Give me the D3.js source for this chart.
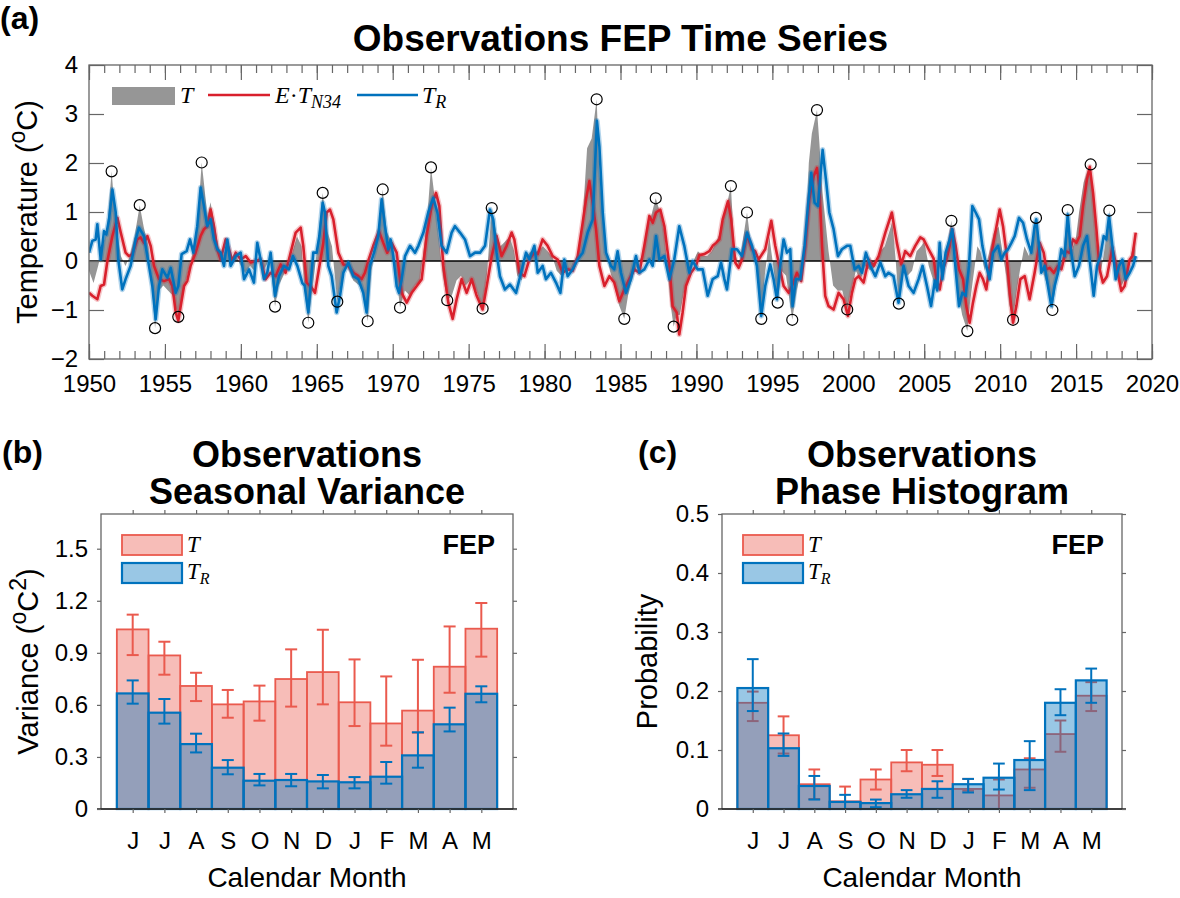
<!DOCTYPE html>
<html>
<head>
<meta charset="utf-8">
<script src="https://cdn.jsdelivr.net/npm/d3@7"></script>
<style>
  body { margin: 0; background: #fff; }
  svg { display: block; }
  text { font-family: Arial, "Liberation Sans", Helvetica, sans-serif; fill: #000; }
</style>
</head>
<body>
<div id="chart"></div>
<script>
// ---- panel (a) data: [year, value] ----
const seriesT = [
  [1950.0,-0.2],[1950.3,-0.45],[1950.6,-0.1],[1950.9,0.3],[1951.2,0.7],[1951.49,1.83],[1951.7,1.0],[1951.9,0.5],
  [1952.1,0.1],[1952.4,-0.1],[1952.7,0.1],[1953.0,0.5],[1953.34,1.14],[1953.6,0.7],[1953.9,0.3],[1954.1,-0.3],
  [1954.35,-1.37],[1954.6,-0.6],[1954.9,-0.5],[1955.2,-0.6],[1955.5,-0.7],[1955.88,-1.14],[1956.1,-0.8],[1956.4,-0.4],
  [1956.7,0.0],[1957.0,0.4],[1957.2,1.0],[1957.42,2.01],[1957.6,1.5],[1957.8,0.9],[1958.0,1.2],[1958.3,0.7],
  [1958.5,0.3],[1958.8,0.1],[1959.1,0.3],[1959.4,-0.1],[1959.7,0.1],[1960.0,-0.1],[1960.3,-0.25],[1960.6,-0.1],
  [1960.9,-0.2],[1961.2,0.1],[1961.5,-0.2],[1961.9,0.05],[1962.25,-0.93],[1962.5,-0.5],[1962.8,-0.3],[1963.1,-0.1],
  [1963.4,0.2],[1963.7,0.5],[1964.0,0.3],[1964.2,-0.6],[1964.44,-1.26],[1964.7,-0.6],[1965.0,0.2],[1965.39,1.39],
  [1965.7,0.6],[1966.0,0.3],[1966.35,-0.83],[1966.7,-0.3],[1967.0,-0.1],[1967.4,-0.4],[1967.8,-0.5],[1968.1,-0.7],
  [1968.35,-1.23],[1968.6,-0.2],[1968.9,0.3],[1969.1,0.7],[1969.34,1.46],[1969.6,0.6],[1969.9,0.4],[1970.2,-0.2],
  [1970.48,-0.95],[1970.8,-0.6],[1971.1,-0.7],[1971.5,-0.5],[1971.8,-0.4],[1972.1,0.4],[1972.3,1.0],[1972.52,1.91],
  [1972.8,1.2],[1973.0,0.6],[1973.3,-0.3],[1973.59,-0.8],[1973.9,-0.7],[1974.2,-0.4],[1974.5,-0.3],[1974.8,-0.5],
  [1975.1,-0.4],[1975.5,-0.6],[1975.92,-0.97],[1976.2,-0.3],[1976.52,1.08],[1976.8,0.6],[1977.1,0.3],[1977.4,0.4],
  [1977.7,0.5],[1978.0,0.2],[1978.2,-0.3],[1978.5,-0.4],[1978.8,0.1],[1979.1,0.2],[1979.5,0.2],[1979.9,0.3],
  [1980.2,0.2],[1980.5,0.1],[1980.8,-0.2],[1981.1,-0.3],[1981.4,-0.2],[1981.8,-0.2],[1982.1,0.0],[1982.5,0.8],
  [1982.8,2.3],[1983.1,2.5],[1983.43,3.3],[1983.6,1.9],[1983.8,1.0],[1984.0,0.3],[1984.3,-0.2],[1984.6,-0.5],
  [1984.9,-0.9],[1985.25,-1.18],[1985.5,-0.7],[1985.8,-0.3],[1986.1,-0.1],[1986.4,0.1],[1986.7,0.6],[1987.0,0.9],
  [1987.32,1.28],[1987.6,1.0],[1987.9,0.6],[1988.1,-0.2],[1988.3,-0.9],[1988.5,-1.34],[1988.7,-1.1],[1988.9,-1.1],
  [1989.2,-0.6],[1989.5,-0.3],[1989.8,0.0],[1990.1,0.2],[1990.4,0.1],[1990.7,0.1],[1991.0,0.2],[1991.3,0.4],
  [1991.6,0.6],[1991.9,1.0],[1992.27,1.53],[1992.5,0.2],[1992.8,-0.1],[1993.0,0.3],[1993.33,0.99],[1993.6,0.3],
  [1993.9,0.0],[1994.1,-0.5],[1994.27,-1.18],[1994.5,-0.3],[1994.8,0.5],[1995.1,-0.2],[1995.35,-0.85],[1995.6,-0.2],
  [1995.9,-0.3],[1996.31,-1.2],[1996.6,-0.6],[1996.9,-0.2],[1997.2,0.5],[1997.4,2.0],[1997.6,2.6],[1997.94,3.08],
  [1998.1,2.4],[1998.3,1.4],[1998.5,0.8],[1998.7,0.2],[1999.0,-0.5],[1999.3,-0.6],[1999.6,-0.6],[1999.93,-0.99],
  [2000.2,-0.6],[2000.5,-0.2],[2000.8,-0.4],[2001.1,-0.1],[2001.5,-0.2],[2001.8,-0.1],[2002.1,0.2],[2002.4,0.3],
  [2002.7,0.6],[2002.9,0.8],[2003.1,0.1],[2003.33,-0.87],[2003.6,-0.2],[2003.9,-0.3],[2004.2,-0.2],[2004.5,0.2],
  [2004.8,0.3],[2005.0,0.4],[2005.3,-0.1],[2005.6,-0.4],[2005.8,-0.6],[2006.0,-0.1],[2006.3,-0.3],[2006.5,0.3],
  [2006.79,0.82],[2007.0,0.0],[2007.2,-0.6],[2007.5,-1.1],[2007.84,-1.43],[2008.0,-0.9],[2008.2,-0.4],[2008.5,0.3],
  [2008.7,0.2],[2009.0,-0.2],[2009.3,0.2],[2009.6,0.6],[2009.9,0.7],[2010.1,0.3],[2010.4,-0.3],[2010.6,-0.9],
  [2010.85,-1.2],[2011.1,-0.6],[2011.3,-0.2],[2011.6,0.3],[2011.9,0.1],[2012.1,0.4],[2012.36,0.88],[2012.6,0.0],
  [2012.9,-0.3],[2013.2,-0.6],[2013.44,-1.0],[2013.7,-0.4],[2014.0,-0.1],[2014.2,0.3],[2014.45,1.04],[2014.7,0.2],
  [2015.0,0.5],[2015.2,1.0],[2015.5,1.6],[2015.7,1.8],[2015.96,1.97],[2016.2,1.0],[2016.4,0.2],[2016.6,-0.3],
  [2016.9,0.3],[2017.19,1.03],[2017.4,0.2],[2017.7,-0.3],[2018.0,-0.5],[2018.3,-0.3],[2018.6,0.1],[2018.9,0.5]
];

const seriesN34 = [
  [1950.0,-0.65],[1950.22,-0.71],[1950.55,-0.78],[1950.77,-0.51],[1950.99,-0.48],[1951.21,0.0],[1951.54,0.51],[1951.87,0.88],
  [1952.09,0.58],[1952.41,0.17],[1952.63,0.10],[1952.85,0.14],[1953.18,0.44],[1953.40,0.48],[1953.62,0.37],[1953.84,0.51],
  [1954.06,0.31],[1954.28,-0.10],[1954.61,-0.37],[1954.94,-0.41],[1955.27,-0.37],[1955.49,-0.51],[1955.71,-1.05],[1955.88,-1.22],
  [1956.04,-0.92],[1956.26,-0.51],[1956.47,-0.41],[1956.69,-0.10],[1957.02,0.17],[1957.35,0.51],[1957.57,0.65],[1957.79,0.71],
  [1958.01,1.05],[1958.23,0.71],[1958.45,0.24],[1958.67,0.03],[1959.00,0.44],[1959.22,0.24],[1959.44,0.0],[1959.66,0.17],
  [1959.99,0.03],[1960.32,0.10],[1960.65,-0.03],[1960.97,0.0],[1961.30,0.03],[1961.63,-0.37],[1961.96,-0.24],[1962.29,-0.31],
  [1962.62,-0.07],[1962.95,-0.24],[1963.28,0.17],[1963.61,0.58],[1963.94,0.68],[1964.11,0.31],[1964.33,-0.44],[1964.66,-0.54],
  [1964.88,-0.65],[1965.10,-0.24],[1965.43,0.37],[1965.65,0.99],[1965.87,1.05],[1966.09,0.85],[1966.42,0.17],[1966.75,-0.07],
  [1967.08,-0.10],[1967.41,-0.24],[1967.74,-0.31],[1967.95,-0.37],[1968.17,-0.24],[1968.39,0.0],[1968.72,0.31],[1969.09,0.61],
  [1969.38,0.37],[1969.64,0.17],[1969.93,0.37],[1970.26,0.17],[1970.59,-0.65],[1970.92,-0.85],[1971.25,-0.65],[1971.58,-0.51],
  [1971.91,-0.37],[1972.23,0.51],[1972.56,1.12],[1972.85,1.39],[1973.07,1.12],[1973.33,-0.10],[1973.66,-0.85],[1973.95,-1.18],
  [1974.21,-0.78],[1974.54,-0.37],[1974.87,-0.65],[1975.20,-0.37],[1975.53,-0.71],[1975.92,-0.99],[1976.19,-0.51],[1976.52,0.10],
  [1976.84,0.51],[1977.17,0.10],[1977.50,0.31],[1977.83,0.58],[1978.01,0.44],[1978.34,-0.24],[1978.67,-0.31],[1978.99,0.03],
  [1979.33,0.17],[1979.55,0.14],[1979.87,0.44],[1980.20,0.31],[1980.53,0.10],[1980.86,0.03],[1981.19,-0.24],[1981.52,-0.17],
  [1981.85,-0.20],[1982.18,0.10],[1982.51,0.78],[1982.73,1.26],[1982.95,1.63],[1983.17,1.18],[1983.39,0.65],[1983.61,-0.10],
  [1983.94,-0.51],[1984.27,-0.31],[1984.59,-0.44],[1984.92,-0.82],[1985.25,-0.58],[1985.58,-0.37],[1985.91,-0.17],[1986.24,-0.24],
  [1986.57,0.31],[1986.90,0.92],[1987.12,0.78],[1987.34,0.99],[1987.62,1.05],[1987.89,0.71],[1988.22,-0.10],[1988.43,-0.92],
  [1988.70,-1.05],[1988.87,-1.50],[1989.09,-1.05],[1989.31,-0.51],[1989.64,-0.24],[1989.97,-0.10],[1990.19,0.12],[1990.52,0.14],
  [1990.85,0.20],[1991.07,0.31],[1991.29,0.37],[1991.51,0.44],[1991.73,0.85],[1992.08,1.22],[1992.29,0.85],[1992.56,-0.03],
  [1992.78,-0.14],[1993.0,0.03],[1993.33,0.54],[1993.66,0.24],[1993.87,0.20],[1994.09,0.03],[1994.53,0.24],[1994.93,0.82],
  [1995.19,0.31],[1995.46,-0.10],[1995.74,-0.51],[1996.07,-0.65],[1996.29,-0.51],[1996.62,-0.24],[1996.90,-0.41],[1997.17,0.31],
  [1997.43,1.26],[1997.72,1.73],[1997.94,1.90],[1998.09,1.53],[1998.27,0.31],[1998.48,-0.71],[1998.70,-0.92],[1999.03,-0.99],
  [1999.36,-0.65],[1999.69,-0.78],[1999.98,-1.12],[2000.24,-0.65],[2000.46,-0.37],[2000.68,-0.31],[2001.01,-0.44],[2001.34,0.03],
  [2001.67,-0.10],[2002.0,0.10],[2002.44,0.58],[2002.87,0.99],[2003.20,0.37],[2003.49,-0.07],[2003.75,0.20],[2004.08,0.10],
  [2004.41,0.31],[2004.74,0.48],[2004.96,0.44],[2005.29,0.24],[2005.62,0.05],[2005.80,-0.37],[2006.02,-0.58],[2006.24,-0.17],
  [2006.46,0.03],[2006.68,0.31],[2006.85,0.65],[2007.07,0.31],[2007.29,-0.17],[2007.56,-0.37],[2007.77,-0.92],[2007.99,-1.26],
  [2008.21,-0.85],[2008.43,-0.51],[2008.65,-0.24],[2008.87,-0.37],[2009.09,-0.58],[2009.36,0.03],[2009.64,0.51],[2009.97,1.05],
  [2010.19,0.71],[2010.41,0.17],[2010.63,-0.65],[2010.85,-1.26],[2011.07,-0.92],[2011.33,-0.37],[2011.62,-0.31],[2011.94,-0.78],
  [2012.27,-0.24],[2012.60,0.37],[2012.87,0.17],[2013.04,-0.17],[2013.26,-0.14],[2013.53,-0.24],[2013.81,-0.10],[2014.03,-0.17],
  [2014.32,0.20],[2014.58,0.17],[2014.80,0.44],[2015.02,0.37],[2015.24,0.51],[2015.46,1.12],[2015.72,1.67],[2015.90,1.92],
  [2016.12,1.39],[2016.34,0.65],[2016.55,-0.17],[2016.77,-0.44],[2017.04,-0.31],[2017.39,0.27],[2017.65,-0.10],[2017.98,-0.61],
  [2018.20,-0.51],[2018.53,0.03],[2018.71,0.10],[2018.93,0.58]
];

const seriesTR = [
  [1950.0,0.17],[1950.22,0.41],[1950.44,0.44],[1950.55,0.75],[1950.77,0.03],[1950.99,0.61],[1951.14,0.54],[1951.32,0.85],
  [1951.54,1.46],[1951.76,0.99],[1951.93,0.03],[1952.19,-0.58],[1952.41,-0.37],[1952.74,-0.10],[1953.07,0.44],[1953.29,0.68],
  [1953.62,0.51],[1953.95,-0.10],[1954.17,-0.51],[1954.39,-1.19],[1954.61,-0.51],[1954.83,-0.17],[1955.16,-0.34],[1955.38,-0.14],
  [1955.71,-0.65],[1955.88,-0.51],[1956.1,0.14],[1956.43,0.2],[1956.65,0.44],[1956.87,0.17],[1957.13,0.71],[1957.35,1.50],
  [1957.57,1.12],[1957.79,0.71],[1958.01,0.85],[1958.23,0.44],[1958.45,0.24],[1958.67,0.17],[1958.89,-0.10],[1959.11,0.44],
  [1959.33,-0.10],[1959.66,0.10],[1959.99,0.17],[1960.21,-0.37],[1960.54,-0.17],[1960.86,-0.44],[1961.08,0.37],[1961.30,0.03],
  [1961.52,-0.37],[1961.74,-0.24],[1961.96,0.17],[1962.25,-0.71],[1962.51,-0.31],[1962.84,-0.10],[1963.17,-0.17],[1963.43,0.10],
  [1963.72,-0.10],[1964.05,-0.45],[1964.20,-0.50],[1964.44,-1.05],[1964.66,-0.24],[1964.77,0.17],[1964.99,0.17],[1965.17,0.51],
  [1965.39,1.19],[1965.54,0.99],[1965.76,-0.10],[1965.98,-0.31],[1966.31,-1.05],[1966.53,-0.71],[1966.75,-0.24],[1967.08,-0.03],
  [1967.41,-0.31],[1967.74,-0.37],[1968.06,-0.65],[1968.28,-1.05],[1968.50,-0.10],[1968.77,0.17],[1969.05,0.51],[1969.27,1.26],
  [1969.49,0.71],[1969.71,0.24],[1969.86,0.44],[1970.04,0.10],[1970.26,-0.51],[1970.41,-0.65],[1970.59,-0.37],[1970.81,0.10],
  [1971.14,0.31],[1971.47,0.17],[1971.69,0.31],[1972.02,0.58],[1972.34,0.99],[1972.67,1.29],[1972.94,0.99],[1973.22,0.31],
  [1973.55,0.17],[1973.88,0.58],[1974.10,0.71],[1974.43,0.58],[1974.76,0.44],[1975.09,0.10],[1975.42,0.17],[1975.75,0.17],
  [1976.08,0.31],[1976.40,1.05],[1976.62,0.85],[1976.84,0.17],[1977.06,-0.31],[1977.39,-0.58],[1977.72,-0.48],[1978.12,-0.65],
  [1978.45,-0.24],[1978.78,0.17],[1979.0,0.03],[1979.33,0.31],[1979.55,-0.24],[1979.87,-0.10],[1980.09,-0.37],[1980.42,-0.24],
  [1980.75,-0.44],[1981.04,-0.65],[1981.30,0.03],[1981.52,-0.31],[1981.85,-0.17],[1982.18,0.03],[1982.51,0.17],[1982.84,0.58],
  [1983.17,0.85],[1983.45,2.86],[1983.61,2.34],[1983.83,0.99],[1984.05,0.17],[1984.37,-0.10],[1984.59,-0.17],[1984.81,0.20],
  [1985.03,-0.24],[1985.36,-0.65],[1985.69,-0.37],[1986.02,0.10],[1986.24,-0.24],[1986.57,-0.17],[1986.90,0.03],[1987.12,-0.10],
  [1987.34,0.51],[1987.56,0.03],[1987.89,0.10],[1988.22,-0.37],[1988.54,0.03],[1988.87,0.71],[1989.20,0.31],[1989.53,-0.24],
  [1989.75,0.0],[1990.08,-0.17],[1990.41,-0.17],[1990.74,-0.71],[1991.07,-0.37],[1991.40,-0.31],[1991.62,-0.03],[1991.84,-0.37],
  [1992.01,-0.58],[1992.34,0.24],[1992.67,0.24],[1993.0,0.10],[1993.33,0.58],[1993.66,0.31],[1993.98,-0.10],[1994.27,-1.12],
  [1994.53,-0.51],[1994.86,-0.07],[1995.08,-0.37],[1995.30,-0.78],[1995.52,-0.10],[1995.74,0.44],[1995.96,0.17],[1996.18,0.24],
  [1996.33,-0.92],[1996.55,-0.37],[1996.84,-0.37],[1997.12,0.31],[1997.34,1.12],[1997.56,1.80],[1997.78,1.19],[1998.0,1.12],
  [1998.31,2.27],[1998.53,1.66],[1998.75,0.99],[1999.03,0.65],[1999.32,0.10],[1999.58,0.24],[1999.91,0.31],[2000.13,0.31],
  [2000.42,-0.17],[2000.68,-0.10],[2000.90,-0.24],[2001.16,0.17],[2001.45,-0.10],[2001.78,-0.31],[2002.11,-0.03],[2002.44,-0.31],
  [2002.65,-0.24],[2002.98,-0.31],[2003.31,-0.85],[2003.64,-0.10],[2003.97,-0.51],[2004.30,-0.65],[2004.63,-0.37],[2004.89,-0.10],
  [2005.18,-0.51],[2005.45,-0.92],[2005.70,-0.40],[2005.85,-0.60],[2006.02,0.37],[2006.19,-0.37],[2006.41,0.17],[2006.68,0.44],
  [2006.85,0.65],[2007.07,-0.17],[2007.29,-0.92],[2007.51,-0.65],[2007.73,-0.71],[2007.95,-0.10],[2008.17,1.12],[2008.39,0.99],
  [2008.61,0.85],[2008.83,0.31],[2009.09,-0.10],[2009.31,-0.37],[2009.53,0.17],[2009.86,0.31],[2010.08,0.03],[2010.30,0.17],
  [2010.52,0.24],[2010.74,0.37],[2010.96,0.51],[2011.24,0.88],[2011.51,0.78],[2011.77,0.44],[2012.05,0.17],[2012.27,0.71],
  [2012.38,0.85],[2012.56,0.31],[2012.71,-0.24],[2012.93,-0.10],[2013.15,-0.51],[2013.37,-0.92],[2013.59,-0.51],[2013.81,-0.24],
  [2014.03,0.24],[2014.25,0.10],[2014.45,0.95],[2014.62,0.31],[2014.91,-0.31],[2015.19,-0.10],[2015.46,0.31],[2015.72,0.51],
  [2015.94,-0.10],[2016.16,-0.71],[2016.38,-0.10],[2016.60,0.10],[2016.82,0.51],[2016.99,0.44],[2017.17,0.92],[2017.39,0.31],
  [2017.61,-0.37],[2017.83,-0.10],[2018.05,0.03],[2018.27,-0.37],[2018.53,-0.24],[2018.75,-0.10],[2018.93,0.10]
];

// circled extreme events of T
const extremes = [
  [1951.49,1.83],[1953.34,1.14],[1954.35,-1.37],[1955.88,-1.14],[1957.42,2.01],[1962.25,-0.93],[1964.44,-1.26],
  [1965.39,1.39],[1966.35,-0.83],[1968.35,-1.23],[1969.34,1.46],[1970.48,-0.95],[1972.52,1.91],[1973.59,-0.80],
  [1975.92,-0.97],[1976.52,1.08],[1983.43,3.30],[1985.25,-1.18],[1987.32,1.28],[1988.50,-1.34],[1992.27,1.53],
  [1993.33,0.99],[1994.27,-1.18],[1995.35,-0.85],[1996.31,-1.20],[1997.94,3.08],[1999.93,-0.99],[2003.33,-0.87],
  [2006.79,0.82],[2007.84,-1.43],[2010.85,-1.20],[2012.36,0.88],[2013.44,-1.00],[2014.45,1.04],[2015.96,1.97],
  [2017.19,1.03]
];

const yearTicks = [1950,1955,1960,1965,1970,1975,1980,1985,1990,1995,2000,2005,2010,2015,2020];
const tempTicks = [-2,-1,0,1,2,3,4];

// ---- panels (b) and (c) data ----
const months = ["J","J","A","S","O","N","D","J","F","M","A","M"];

const varT    = [1.035,0.885,0.709,0.603,0.620,0.749,0.789,0.615,0.493,0.567,0.820,1.039];
const varTlo  = [0.887,0.774,0.622,0.526,0.509,0.590,0.603,0.478,0.365,0.440,0.670,0.878];
const varThi  = [1.120,0.964,0.785,0.686,0.711,0.920,1.033,0.862,0.764,0.860,1.052,1.187];
const varTR   = [0.666,0.555,0.374,0.238,0.163,0.167,0.159,0.154,0.186,0.309,0.488,0.664];
const varTRlo = [0.607,0.492,0.326,0.200,0.136,0.131,0.119,0.119,0.146,0.238,0.447,0.615];
const varTRhi = [0.741,0.634,0.434,0.282,0.202,0.202,0.196,0.184,0.271,0.442,0.584,0.707];
const varTicks = [0,0.3,0.6,0.9,1.2,1.5];

const probT    = [0.180,0.125,0.042,0.013,0.050,0.079,0.075,0.034,0.023,0.067,0.127,0.192];
const probTlo  = [0.149,0.094,0.017,0.000,0.033,0.064,0.056,0.031,0.000,0.036,0.097,0.166];
const probThi  = [0.199,0.157,0.067,0.038,0.067,0.100,0.100,0.051,0.050,0.086,0.150,0.215];
const probTR   = [0.205,0.103,0.039,0.012,0.010,0.025,0.034,0.042,0.053,0.083,0.180,0.218];
const probTRlo = [0.166,0.090,0.016,0.000,0.003,0.019,0.019,0.028,0.033,0.032,0.159,0.180];
const probTRhi = [0.254,0.128,0.056,0.024,0.016,0.032,0.047,0.051,0.077,0.115,0.203,0.238];
const probTicks = [0,0.1,0.2,0.3,0.4,0.5];

// ---- styling ----
const RED = "#d9202c";
const BLUE = "#0072bd";
const BAR_RED = "#ea5a4e";
const GRAY = "#969696";
const AXIS = "#666";
const SERIF = '"Liberation Serif", "DejaVu Serif", serif';

const svg = d3.select("#chart").append("svg")
  .attr("width", 1180)
  .attr("height", 898)
  .style("background-color", "white");

// =================== panel (a) ===================
const A = { left: 89, right: 1152, top: 65, bottom: 359 };
const xA = d3.scaleLinear().domain([1950, 2020]).range([A.left, A.right]);
const yA = d3.scaleLinear().domain([-2, 4]).range([A.bottom, A.top]);

svg.append("text").attr("x", 0).attr("y", 29)
  .style("font-size", "32px").style("font-weight", 700).text("(a)");
svg.append("text").attr("x", (A.left + A.right) / 2).attr("y", 51)
  .attr("text-anchor", "middle")
  .style("font-size", "37px").style("font-weight", 700)
  .text("Observations FEP Time Series");

svg.append("clipPath").attr("id", "clipA").append("rect")
  .attr("x", A.left).attr("y", A.top)
  .attr("width", A.right - A.left).attr("height", A.bottom - A.top);

const plotA = svg.append("g").attr("clip-path", "url(#clipA)");

plotA.append("path").datum(seriesT)
  .attr("d", d3.area().x(d => xA(d[0])).y0(yA(0)).y1(d => yA(d[1])))
  .attr("fill", GRAY);

plotA.append("line")
  .attr("x1", A.left).attr("x2", A.right)
  .attr("y1", yA(0)).attr("y2", yA(0))
  .attr("stroke", "#000").attr("stroke-width", 1.4);

const lineA = d3.line().x(d => xA(d[0])).y(d => yA(d[1]));

// light spread bands under each line, then the lines
plotA.append("path").datum(seriesN34).attr("d", lineA)
  .attr("fill", "none").attr("stroke", RED).attr("stroke-opacity", 0.25)
  .attr("stroke-width", 5.5).attr("stroke-linejoin", "round");
plotA.append("path").datum(seriesN34).attr("d", lineA)
  .attr("fill", "none").attr("stroke", RED).attr("stroke-width", 2.6)
  .attr("stroke-linejoin", "round");

plotA.append("path").datum(seriesTR).attr("d", lineA)
  .attr("fill", "none").attr("stroke", BLUE).attr("stroke-opacity", 0.3)
  .attr("stroke-width", 5.5).attr("stroke-linejoin", "round");
plotA.append("path").datum(seriesTR).attr("d", lineA)
  .attr("fill", "none").attr("stroke", BLUE).attr("stroke-width", 2.6)
  .attr("stroke-linejoin", "round");

plotA.selectAll("circle.ext").data(extremes).enter().append("circle")
  .attr("class", "ext")
  .attr("cx", d => xA(d[0])).attr("cy", d => yA(d[1]))
  .attr("r", 5.5).attr("fill", "none")
  .attr("stroke", "#000").attr("stroke-width", 1.2);

// axes (ticks pointing inward, box)
function styleAxis(g, fontSize) {
  g.select(".domain").remove();
  g.selectAll(".tick line").attr("stroke", AXIS).attr("stroke-width", 1.2);
  g.selectAll(".tick text").style("font-size", fontSize).style("font-family", "Arial, 'Liberation Sans', sans-serif").attr("fill", "#262626");
}

const minorYears = d3.range(1950, 2021, 1);
svg.append("g").attr("transform", `translate(0,${A.bottom})`)
  .call(d3.axisBottom(xA).tickValues(minorYears).tickSize(-8).tickFormat(""))
  .call(g => styleAxis(g, "24px"));
svg.append("g").attr("transform", `translate(0,${A.bottom})`)
  .call(d3.axisBottom(xA).tickValues(yearTicks).tickSize(-15).tickPadding(16).tickFormat(d3.format("d")))
  .call(g => styleAxis(g, "24px"));
svg.append("g").attr("transform", `translate(0,${A.top})`)
  .call(d3.axisTop(xA).tickValues(minorYears).tickSize(-8).tickFormat(""))
  .call(g => styleAxis(g, "24px"));
svg.append("g").attr("transform", `translate(0,${A.top})`)
  .call(d3.axisTop(xA).tickValues(yearTicks).tickSize(-15).tickFormat(""))
  .call(g => styleAxis(g, "24px"));
svg.append("g").attr("transform", `translate(${A.left},0)`)
  .call(d3.axisLeft(yA).tickValues(tempTicks).tickSize(-15).tickPadding(11).tickFormat(d3.format("d")))
  .call(g => styleAxis(g, "24px"));
svg.append("g").attr("transform", `translate(${A.right},0)`)
  .call(d3.axisRight(yA).tickValues(tempTicks).tickSize(-15).tickFormat(""))
  .call(g => styleAxis(g, "24px"));

svg.append("rect")
  .attr("x", A.left).attr("y", A.top)
  .attr("width", A.right - A.left).attr("height", A.bottom - A.top)
  .attr("fill", "none").attr("stroke", AXIS).attr("stroke-width", 1.3);

const yLabA = svg.append("text")
  .attr("transform", `translate(37,${(A.top + A.bottom) / 2}) rotate(-90)`)
  .attr("text-anchor", "middle")
  .style("font-size", "29px").attr("fill", "#262626");
yLabA.append("tspan").text("Temperature (");
yLabA.append("tspan").attr("dy", -12).style("font-size", "23px").text("o");
yLabA.append("tspan").attr("dy", 12).text("C)");

// legend of panel (a)
const legA = svg.append("g");
legA.append("rect").attr("x", 112).attr("y", 87).attr("width", 63).attr("height", 18).attr("fill", GRAY);
legA.append("text").attr("x", 180).attr("y", 103)
  .style("font-family", SERIF).style("font-style", "italic").style("font-size", "24px").text("T");
legA.append("line").attr("x1", 208).attr("x2", 270).attr("y1", 95).attr("y2", 95)
  .attr("stroke", RED).attr("stroke-width", 2.6);
const legE = legA.append("text").attr("x", 275).attr("y", 103)
  .style("font-family", SERIF).style("font-style", "italic").style("font-size", "24px");
legE.append("tspan").text("E");
legE.append("tspan").style("font-style", "normal").text("·");
legE.append("tspan").text("T");
legE.append("tspan").attr("dy", 5).style("font-size", "18px").text("N34");
legA.append("line").attr("x1", 357).attr("x2", 418).attr("y1", 95).attr("y2", 95)
  .attr("stroke", BLUE).attr("stroke-width", 2.6);
const legR = legA.append("text").attr("x", 422).attr("y", 103)
  .style("font-family", SERIF).style("font-style", "italic").style("font-size", "24px");
legR.append("tspan").text("T");
legR.append("tspan").attr("dy", 5).style("font-size", "18px").text("R");

// =================== panels (b) and (c) ===================
function barPanel(opts) {
  const P = opts.box;
  const x = d3.scaleLinear().domain([0, 13]).range([P.left, P.right]);
  const y = d3.scaleLinear().domain(opts.domain).range([P.bottom, P.top]);
  const g = svg.append("g");
  const idx = d3.range(12);
  const cap = 0.19;
  const cx = (P.left + P.right) / 2;

  g.append("text").attr("x", opts.tagX).attr("y", 463)
    .style("font-size", "32px").style("font-weight", 700).text(opts.tag);

  // two-line title as one block of text
  g.append("foreignObject")
    .attr("x", cx - 260).attr("y", 436).attr("width", 520).attr("height", 80)
    .append("xhtml:div")
    .style("font-family", "Arial, 'Liberation Sans', sans-serif")
    .style("font-size", "36px").style("font-weight", "700")
    .style("line-height", "37px").style("text-align", "center").style("color", "#000")
    .html("Observations<br>" + opts.title);

  function bars(vals, color, cls, sw) {
    g.selectAll("rect." + cls).data(idx).enter().append("rect")
      .attr("class", cls)
      .attr("x", i => x(i + 0.5)).attr("width", x(1) - x(0))
      .attr("y", i => y(vals[i])).attr("height", i => y(0) - y(vals[i]))
      .attr("fill", color).attr("fill-opacity", 0.4)
      .attr("stroke", color).attr("stroke-width", sw);
  }
  function errs(lo, hi, color, cls) {
    const e = g.selectAll("g." + cls).data(idx).enter().append("g").attr("class", cls)
      .attr("stroke", color).attr("stroke-width", 2);
    e.append("line").attr("x1", i => x(i + 1)).attr("x2", i => x(i + 1))
      .attr("y1", i => y(lo[i])).attr("y2", i => y(hi[i]));
    e.append("line").attr("x1", i => x(i + 1 - cap)).attr("x2", i => x(i + 1 + cap))
      .attr("y1", i => y(lo[i])).attr("y2", i => y(lo[i]));
    e.append("line").attr("x1", i => x(i + 1 - cap)).attr("x2", i => x(i + 1 + cap))
      .attr("y1", i => y(hi[i])).attr("y2", i => y(hi[i]));
  }

  bars(opts.t, BAR_RED, "rt", 1.8);
  errs(opts.tlo, opts.thi, BAR_RED, "et");
  bars(opts.tr, BLUE, "rb", 2.2);
  errs(opts.trlo, opts.trhi, BLUE, "eb");

  // axes: ticks outward
  svg.append("g").attr("transform", `translate(0,${P.bottom})`)
    .call(d3.axisBottom(x).tickValues(d3.range(1, 13)).tickSize(4).tickPadding(19)
      .tickFormat(d => months[d - 1]))
    .call(g2 => styleAxis(g2, "24px"));
  svg.append("g").attr("transform", `translate(0,${P.top})`)
    .call(d3.axisTop(x).tickValues(d3.range(1, 13)).tickSize(4).tickFormat(""))
    .call(g2 => styleAxis(g2, "24px"));
  svg.append("g").attr("transform", `translate(${P.left},0)`)
    .call(d3.axisLeft(y).tickValues(opts.ticks).tickSize(4).tickPadding(9).tickFormat(d => d === 0 ? "0" : d3.format(".1f")(d)))
    .call(g2 => styleAxis(g2, "24px"));
  svg.append("g").attr("transform", `translate(${P.right},0)`)
    .call(d3.axisRight(y).tickValues(opts.ticks).tickSize(4).tickFormat(""))
    .call(g2 => styleAxis(g2, "24px"));

  g.append("rect").attr("x", P.left).attr("y", P.top)
    .attr("width", P.right - P.left).attr("height", P.bottom - P.top)
    .attr("fill", "none").attr("stroke", AXIS).attr("stroke-width", 1.3);
  g.append("line").attr("x1", P.left - 4).attr("x2", P.right + 4)
    .attr("y1", y(0)).attr("y2", y(0))
    .attr("stroke", "#222").attr("stroke-width", 1.6);

  // legend
  const lx = P.left + 21;
  g.append("rect").attr("x", lx).attr("y", P.top + 21).attr("width", 60).attr("height", 20)
    .attr("fill", BAR_RED).attr("fill-opacity", 0.4).attr("stroke", BAR_RED).attr("stroke-width", 1.8);
  g.append("rect").attr("x", lx).attr("y", P.top + 49).attr("width", 60).attr("height", 20)
    .attr("fill", BLUE).attr("fill-opacity", 0.4).attr("stroke", BLUE).attr("stroke-width", 2.2);
  g.append("text").attr("x", lx + 65).attr("y", P.top + 38)
    .style("font-family", SERIF).style("font-style", "italic").style("font-size", "23px").text("T");
  const lr = g.append("text").attr("x", lx + 65).attr("y", P.top + 65)
    .style("font-family", SERIF).style("font-style", "italic").style("font-size", "23px");
  lr.append("tspan").text("T");
  lr.append("tspan").attr("dy", 5).style("font-size", "16px").text("R");

  g.append("text").attr("x", P.right - 18).attr("y", P.top + 40)
    .attr("text-anchor", "end").style("font-size", "27px").style("font-weight", 700).text("FEP");

  g.append("text").attr("x", cx).attr("y", 887)
    .attr("text-anchor", "middle").style("font-size", "28px").attr("fill", "#262626")
    .text("Calendar Month");

  const yl = g.append("text")
    .attr("transform", `translate(${opts.ylabX},${(P.top + P.bottom) / 2}) rotate(-90)`)
    .attr("text-anchor", "middle").style("font-size", "29px").attr("fill", "#262626");
  opts.ylab(yl);
}

barPanel({
  box: { left: 101, right: 513, top: 514, bottom: 809 },
  domain: [0, 1.7], ticks: varTicks,
  t: varT, tlo: varTlo, thi: varThi, tr: varTR, trlo: varTRlo, trhi: varTRhi,
  tag: "(b)", tagX: 2, title: "Seasonal Variance", ylabX: 38,
  ylab: t => {
    t.append("tspan").text("Variance (");
    t.append("tspan").attr("dy", -12).style("font-size", "23px").text("o");
    t.append("tspan").attr("dy", 12).text("C");
    t.append("tspan").attr("dy", -12).style("font-size", "23px").text("2");
    t.append("tspan").attr("dy", 12).text(")");
  }
});

barPanel({
  box: { left: 722, right: 1122, top: 514, bottom: 809 },
  domain: [0, 0.5], ticks: probTicks,
  t: probT, tlo: probTlo, thi: probThi, tr: probTR, trlo: probTRlo, trhi: probTRhi,
  tag: "(c)", tagX: 638, title: "Phase Histogram", ylabX: 657,
  ylab: t => t.text("Probability")
});
</script>
</body>
</html>
